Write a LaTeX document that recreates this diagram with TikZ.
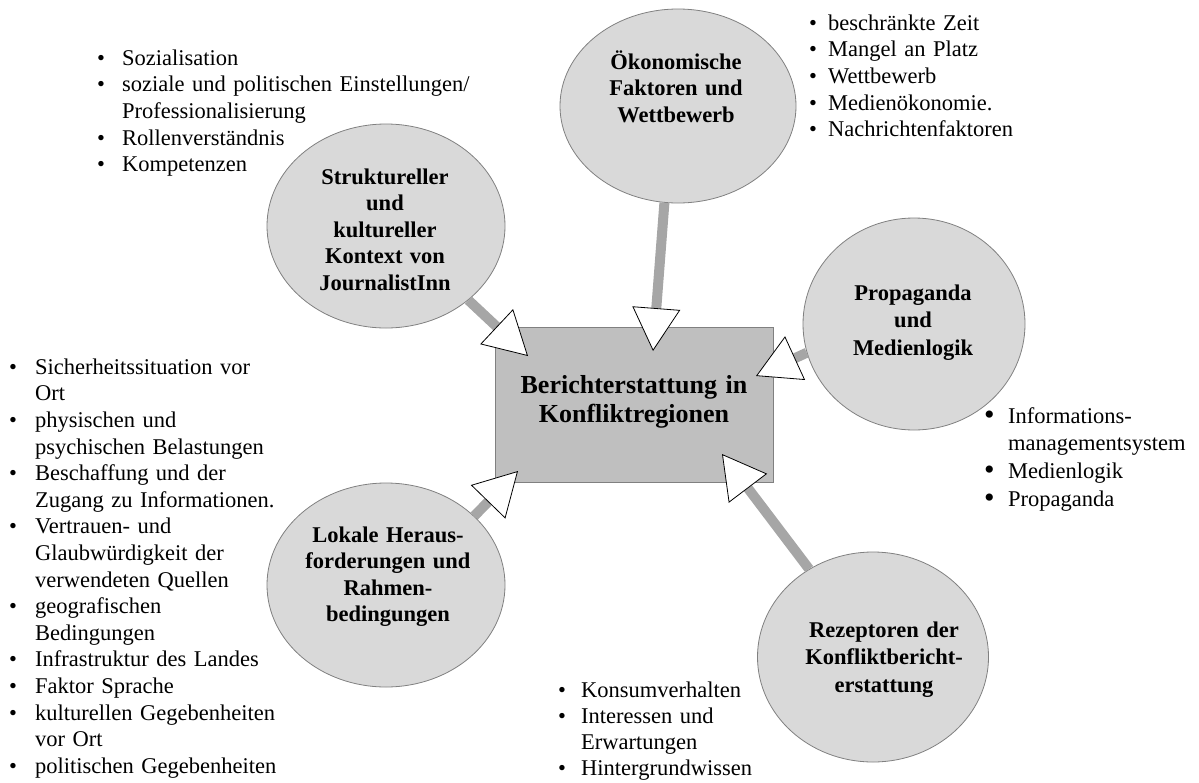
\documentclass[tikz,border=0pt]{standalone}
\usepackage{fontspec}
\setmainfont{Liberation Serif}
\usetikzlibrary{shapes.geometric,arrows.meta}
\newcommand\bul[1]{\makebox[#1][l]{•}}
\newcommand\ind[1]{\hspace*{#1}}
\tikzset{
  ell/.style={ellipse, draw=black!50, fill=black!15, line width=0.8pt, inner sep=0},
  cbox/.style={rectangle, draw=black!50, fill=black!25, line width=0.8pt, inner sep=0},
  conn/.style={draw=black!35, line width=10pt,
    -{Triangle[length=43pt,width=48pt,fill=white,color=black,line width=0.8pt]}},
  lst/.style={anchor=north west, inner sep=0, text width=420pt, align=left,
    font=\fontsize{22.5}{26.6}\selectfont},
  lbl/.style={anchor=north, inner sep=0, text width=260pt, align=center,
    font=\bfseries\fontsize{22.5}{26.5}\selectfont},
}
\begin{document}
\begin{tikzpicture}[x=1pt,y=-1pt]
\useasboundingbox (0,0) rectangle (1199,782);
% central box
\node[cbox, minimum width=278pt, minimum height=155pt] (B) at (634,404.5) {};
% ellipses
\node[ell, minimum width=238pt, minimum height=204pt] (E1) at (386,226) {};
\node[ell, minimum width=236pt, minimum height=194pt] (E2) at (678,106) {};
\node[ell, minimum width=222pt, minimum height=212pt] (E3) at (914,324) {};
\node[ell, minimum width=238pt, minimum height=204pt] (E4) at (386,585) {};
\node[ell, minimum width=231pt, minimum height=210pt] (E5) at (873,657) {};
% arrow tips
\coordinate (t1) at (528,356);
\coordinate (t2) at (653,351);
\coordinate (t3) at (756,376);
\coordinate (t4) at (518,471);
\coordinate (t5) at (722,454);
\draw[conn] (E1.318) -- (t1);
\draw[conn] (E2.262) -- (t2);
\draw[conn] (E3.195) -- (t3);
\draw[conn] (E4.38) -- (t4);
\draw[conn] (E5.126) -- (t5);
% box text
\node[anchor=north, inner sep=0, text width=278pt, align=center,
  font=\bfseries\fontsize{26}{29}\selectfont] (BT) at (634,372.7)
  {\strut Berichterstattung in\\Konfliktregionen};
% ellipse texts
\node[lbl] (L1) at (385,165.5) {\strut Struktureller\\und\\kultureller\\Kontext von\\JournalistInn};
\node[lbl] (L2) at (676,50.5) {\strut Ökonomische\\Faktoren und\\Wettbewerb};
\node[lbl, font=\bfseries\fontsize{22.5}{27.5}\selectfont] (L3) at (913,280.75) {\strut Propaganda\\und\\Medienlogik};
\node[lbl] (L4) at (388,523.5) {\strut Lokale Heraus-\\forderungen und\\Rahmen-\\bedingungen};
\node[lbl, font=\bfseries\fontsize{22.5}{27.5}\selectfont] (L5) at (884,617.75) {\strut Rezeptoren der\\Konfliktbericht-\\erstattung};
% lists
\node[lst] (N1) at (97,46.4) {\strut\bul{25pt}Sozialisation\\
  \bul{25pt}soziale und politischen Einstellungen/\\
  \ind{25pt}Professionalisierung\\
  \bul{25pt}Rollenverständnis\\
  \bul{25pt}Kompetenzen};
\node[lst] (N2) at (809,11.4) {\strut\bul{19pt}beschränkte Zeit\\
  \bul{19pt}Mangel an Platz\\
  \bul{19pt}Wettbewerb\\
  \bul{19pt}Medienökonomie.\\
  \bul{19pt}Nachrichtenfaktoren};
\node[lst] (N3) at (9,355.4) {\strut\bul{26pt}Sicherheitssituation vor\\
  \ind{26pt}Ort\\
  \bul{26pt}physischen und\\
  \ind{26pt}psychischen Belastungen\\
  \bul{26pt}Beschaffung und der\\
  \ind{26pt}Zugang zu Informationen.\\
  \bul{26pt}Vertrauen- und\\
  \ind{26pt}Glaubwürdigkeit der\\
  \ind{26pt}verwendeten Quellen\\
  \bul{26pt}geografischen\\
  \ind{26pt}Bedingungen\\
  \bul{26pt}Infrastruktur des Landes\\
  \bul{26pt}Faktor Sprache\\
  \bul{26pt}kulturellen Gegebenheiten\\
  \ind{26pt}vor Ort\\
  \bul{26pt}politischen Gegebenheiten};
\node[lst, font=\fontsize{22.5}{27.7}\selectfont] (N4) at (984,403.6) {\strut\makebox[24pt][l]{\fontsize{30}{30}\selectfont\raisebox{-1pt}{•}}Informations-\\
  \ind{24pt}managementsystem\\
  \makebox[24pt][l]{\fontsize{30}{30}\selectfont\raisebox{-1pt}{•}}Medienlogik\\
  \makebox[24pt][l]{\fontsize{30}{30}\selectfont\raisebox{-1pt}{•}}Propaganda};
\node[lst, font=\fontsize{22.5}{26}\selectfont] (N5) at (558,678.8) {\strut\bul{23pt}Konsumverhalten\\
  \bul{23pt}Interessen und\\
  \ind{23pt}Erwartungen\\
  \bul{23pt}Hintergrundwissen};
\end{tikzpicture}
\end{document}
